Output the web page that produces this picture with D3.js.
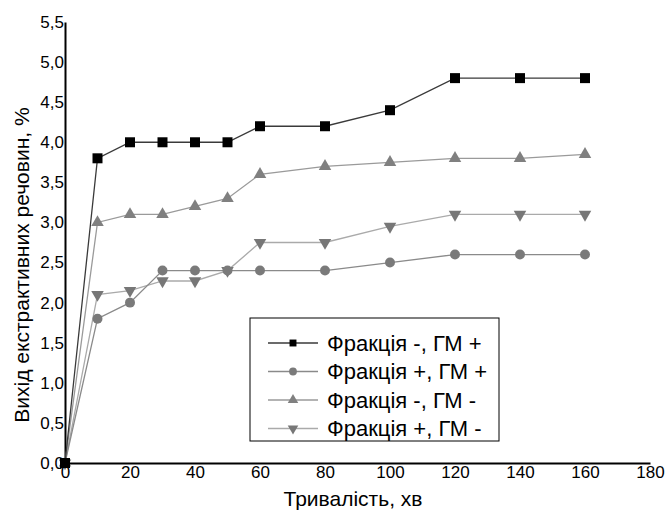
<!DOCTYPE html>
<html>
<head>
<meta charset="utf-8">
<script src="https://cdn.jsdelivr.net/npm/d3@7"></script>
<style>
  body { margin: 0; background: #fff; }
  svg { display: block; font-family: "Liberation Sans", Arial, sans-serif; }
  .tick text { font-family: "Liberation Sans Narrow", "Arial Narrow", "Liberation Sans", sans-serif; }
</style>
</head>
<body>
<svg id="chart" width="667" height="513"></svg>
<script>
// time, min
const minutes = [0, 10, 20, 30, 40, 50, 60, 80, 100, 120, 140, 160];

// yield of extractives, %
const fracMinusGmPlus = [0, 3.8, 4.0, 4.0, 4.0, 4.0, 4.2, 4.2, 4.4, 4.8, 4.8, 4.8];
const fracPlusGmPlus = [0, 1.8, 2.0, 2.4, 2.4, 2.4, 2.4, 2.4, 2.5, 2.6, 2.6, 2.6];
const fracMinusGmMinus = [0, 3.0, 3.1, 3.1, 3.2, 3.3, 3.6, 3.7, 3.75, 3.8, 3.8, 3.85];
const fracPlusGmMinus = [0, 2.1, 2.15, 2.27, 2.27, 2.4, 2.75, 2.75, 2.95, 3.1, 3.1, 3.1];

const seriesNames = ['Фракція -, ГМ +', 'Фракція +, ГМ +', 'Фракція -, ГМ -', 'Фракція +, ГМ -'];
const xTicks = [0, 20, 40, 60, 80, 100, 120, 140, 160, 180];
const yTicks = [0, 0.5, 1, 1.5, 2, 2.5, 3, 3.5, 4, 4.5, 5, 5.5];

const series = [
    { name: seriesNames[0], values: fracMinusGmPlus, shape: 'square', fill: '#000', line: '#3a3a3a' },
    { name: seriesNames[1], values: fracPlusGmPlus, shape: 'circle', fill: '#7a7a7a', line: '#8a8a8a' },
    { name: seriesNames[2], values: fracMinusGmMinus, shape: 'up', fill: '#808080', line: '#9a9a9a' },
    { name: seriesNames[3], values: fracPlusGmMinus, shape: 'down', fill: '#777', line: '#aaa' }
];

const svg = d3.select('#chart');
const margin = { left: 65, top: 22, right: 17, bottom: 50 };
const width = 667 - margin.left - margin.right;
const height = 513 - margin.top - margin.bottom;

const x = d3.scaleLinear().domain([0, 180]).range([margin.left, margin.left + width]);
const y = d3.scaleLinear().domain([0, 5.5]).range([margin.top + height, margin.top]);

const fmt = d3.format('.1f');

// axes
const xAxis = svg.append('g')
    .attr('transform', `translate(0,${y(0)})`)
    .call(d3.axisBottom(x).tickValues(xTicks).tickSize(0).tickPadding(3).tickFormat(d3.format('d')));
xAxis.select('.domain').attr('stroke', '#000').attr('stroke-width', 2);
xAxis.selectAll('text').attr('font-size', 17).attr('fill', '#000');

const yAxis = svg.append('g')
    .attr('transform', `translate(${x(0)},0)`)
    .call(d3.axisLeft(y).tickValues(yTicks).tickSize(0).tickPadding(1).tickFormat(d => fmt(d).replace('.', ',')));
yAxis.select('.domain').attr('stroke', '#000').attr('stroke-width', 2);
yAxis.selectAll('text').attr('font-size', 17).attr('fill', '#000');

// axis titles
svg.append('text')
    .attr('x', 353)
    .attr('y', 506)
    .attr('text-anchor', 'middle')
    .attr('font-size', 21)
    .text('Тривалість, хв');

svg.append('text')
    .attr('transform', 'translate(29,265) rotate(-90)')
    .attr('text-anchor', 'middle')
    .attr('font-size', 21)
    .text('Вихід екстрактивних речовин, %');

const symbolFor = {
    square: d3.symbol().type(d3.symbolSquare).size(100),
    circle: d3.symbol().type(d3.symbolCircle).size(78),
    up: d3.symbol().type(d3.symbolTriangle).size(68),
    down: d3.symbol().type(d3.symbolTriangle).size(68)
};

const line = d3.line()
    .x((d, i) => x(minutes[i]))
    .y(d => y(d));

// draw in reverse so the black series is on top
series.slice().reverse().forEach(s => {
    svg.append('path')
        .datum(s.values)
        .attr('fill', 'none')
        .attr('stroke', s.line)
        .attr('stroke-width', 1.3)
        .attr('d', line);

    svg.append('g')
        .selectAll('path')
        .data(s.values)
        .enter()
        .append('path')
        .attr('d', symbolFor[s.shape])
        .attr('transform', (d, i) => `translate(${x(minutes[i])},${y(d)})` + (s.shape === 'down' ? ' rotate(180)' : ''))
        .attr('fill', s.fill);
});

// legend
const legend = svg.append('g').attr('transform', 'translate(250,318)');
legend.append('rect')
    .attr('width', 249)
    .attr('height', 123)
    .attr('fill', '#fff')
    .attr('stroke', '#000')
    .attr('stroke-width', 1);

const rows = legend.selectAll('g')
    .data(series)
    .enter()
    .append('g')
    .attr('transform', (d, i) => `translate(0,${25 + i * 28.5})`);

rows.append('line')
    .attr('x1', 18)
    .attr('x2', 68)
    .attr('stroke', d => d.line)
    .attr('stroke-width', 1.3);

rows.append('path')
    .attr('d', d => d3.symbol().type(d.shape === 'circle' ? d3.symbolCircle : d.shape === 'square' ? d3.symbolSquare : d3.symbolTriangle).size(48)())
    .attr('transform', d => 'translate(43,0)' + (d.shape === 'down' ? ' rotate(180)' : ''))
    .attr('fill', d => d.fill);

rows.append('text')
    .attr('x', 77)
    .attr('dy', '0.36em')
    .attr('font-size', 22)
    .text(d => d.name);
</script>
</body>
</html>
